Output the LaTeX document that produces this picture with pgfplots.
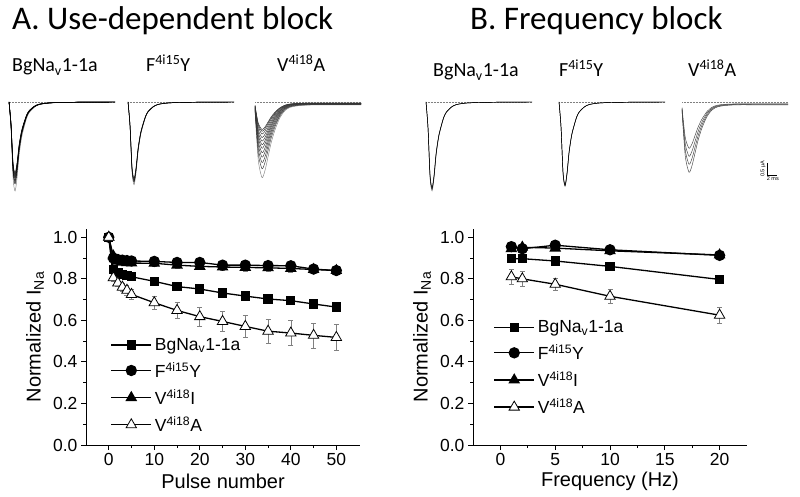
\documentclass[border=0pt]{standalone}
\usepackage{pgfplots}
\pgfplotsset{compat=1.18}
\usepackage{pgfplotstable}
\usepackage{fontspec}
\setmainfont{Liberation Sans}
\newfontfamily\calfont{Carlito}

\pgfplotstableread{
x bg bge f fe vi vie va vae
0 1.000 0.000 1.000 0.000 1.000 0.000 1.000 0.000
1 0.845 0.010 0.900 0.010 0.910 0.010 0.805 0.015
2 0.830 0.010 0.893 0.010 0.885 0.010 0.780 0.018
3 0.820 0.010 0.890 0.010 0.880 0.010 0.760 0.020
4 0.815 0.012 0.888 0.010 0.878 0.012 0.745 0.022
5 0.810 0.012 0.886 0.010 0.876 0.012 0.725 0.025
10 0.788 0.012 0.884 0.010 0.875 0.014 0.685 0.030
15 0.763 0.014 0.879 0.012 0.866 0.015 0.648 0.038
20 0.751 0.015 0.879 0.012 0.860 0.016 0.618 0.045
25 0.732 0.015 0.866 0.012 0.857 0.016 0.595 0.048
30 0.717 0.016 0.866 0.012 0.855 0.017 0.571 0.052
35 0.703 0.017 0.864 0.013 0.853 0.017 0.548 0.056
40 0.695 0.018 0.863 0.013 0.850 0.018 0.539 0.060
45 0.679 0.018 0.847 0.013 0.845 0.018 0.528 0.060
50 0.664 0.020 0.840 0.014 0.840 0.018 0.518 0.062
}\ud

\pgfplotstableread{
x bg bge f fe vi vie va vae
1 0.897 0.008 0.955 0.008 0.945 0.008 0.810 0.036
2 0.897 0.008 0.945 0.008 0.952 0.008 0.800 0.034
5 0.886 0.008 0.962 0.008 0.948 0.008 0.774 0.030
10 0.860 0.008 0.940 0.008 0.935 0.008 0.716 0.034
20 0.797 0.010 0.913 0.008 0.915 0.008 0.625 0.038
}\fb

% normalized current trace shapes (time in ms)
\pgfplotstableread{
t s
0 0
0.4 -0.30
0.8 -0.85
1.2 -1.00
1.6 -0.85
2.0 -0.60
2.5 -0.40
3.0 -0.28
3.5 -0.18
4.0 -0.12
5.0 -0.06
6.0 -0.03
8.0 -0.012
11 -0.005
15 -0.002
21 0
}\shapeA

\pgfplotstableread{
t s
0 -0.12
0.3 -0.45
0.7 -0.80
1.4 -1.00
2.0 -0.90
2.6 -0.72
3.2 -0.54
4.0 -0.36
5.0 -0.20
6.0 -0.11
7.0 -0.07
8.5 -0.05
11 -0.04
15 -0.04
21 -0.04
}\shapeV

\pgfplotsset{
  traceax/.style={scale only axis, width=106pt, height=89pt, xmin=0, xmax=21,
    ymin=-1, ymax=0, hide axis, clip=false, anchor=north west},
  tr/.style={black, line width=0.45pt, smooth, tension=0.45},
  trg/.style={gray, line width=0.45pt, smooth, tension=0.45},
  base/.style={gray, densely dotted, line width=0.5pt},
  mainax/.style={scale only axis, width=274pt, height=216pt, ymin=0, ymax=1.04,
    axis x line*=bottom, axis y line*=left,
    axis line style={line width=0.9pt},
    tick align=outside, major tick length=5pt, minor tick length=3pt,
    every tick/.style={line width=0.9pt, black},
    ytick={0,0.2,0.4,0.6,0.8,1.0}, minor y tick num=1,
    yticklabel style={/pgf/number format/fixed, /pgf/number format/fixed zerofill, /pgf/number format/precision=1},
    /pgf/number format/assume math mode=true,
    tick label style={font=\fontsize{17.5}{20}\selectfont},
    label style={font=\fontsize{20}{22}\selectfont},
    ylabel={Normalized I\textsubscript{Na}},
    ylabel style={at={(axis description cs:-0.186,0.5)}, anchor=center},
    xlabel style={at={(axis description cs:0.5,-0.17)}, anchor=center},
    clip=false,
    legend style={draw=none, fill=none, font=\fontsize{17.5}{20}\selectfont,
      inner sep=0pt, row sep=4.5pt, nodes={inner sep=3pt}},
    legend cell align=left,
    legend image code/.code={\draw[##1, mark repeat=2, mark phase=2]
      plot coordinates {(0pt,0pt) (20pt,0pt) (40pt,0pt)};},
    error bars/y dir=both, error bars/y explicit,
    error bars/error bar style={gray, line width=0.6pt},
    error bars/error mark options={rotate=90, mark size=2.5pt, gray, line width=0.6pt},
  },
  sq/.style={black, line width=1.3pt, mark=square*, mark size=4pt, mark options={solid, fill=black}},
  ci/.style={black, line width=1.3pt, mark=*, mark size=5pt, mark options={solid, fill=black}},
  tf/.style={black, line width=1.3pt, mark=triangle*, mark size=5.5pt, mark options={solid, fill=black}},
  to/.style={black, line width=1.3pt, mark=triangle*, mark size=6pt, mark options={solid, fill=white, draw=black, line width=0.8pt}},
}

\begin{document}
\begin{tikzpicture}
\path[use as bounding box] (0pt,0pt) rectangle (800pt,496pt);

% titles
\node[anchor=base west, font=\calfont\fontsize{33}{36}\selectfont, inner sep=0pt] at (12pt,466pt) {A. Use-dependent block};
\node[anchor=base west, font=\calfont\fontsize{33}{36}\selectfont, inner sep=0pt] at (470pt,466pt) {B. Frequency block};

% trace labels
\begin{scope}[every node/.style={anchor=base west, font=\calfont\fontsize{20}{22}\selectfont, inner sep=0pt}]
\node at (12pt,424pt) {BgNa\textsubscript{v}1-1a};
\node at (146pt,424pt) {F\textsuperscript{4i15}Y};
\node at (277pt,424pt) {V\textsuperscript{4i18}A};
\node at (433pt,419pt) {BgNa\textsubscript{v}1-1a};
\node at (559pt,419pt) {F\textsuperscript{4i15}Y};
\node at (688pt,419pt) {V\textsuperscript{4i18}A};
\end{scope}

% ---- traces panel A ----
\begin{axis}[traceax, at={(9pt,394pt)}]
\addplot[base] coordinates {(0,0) (21,0)};
\addplot[trg] table[x=t, y=s] {\shapeA};
\pgfplotsinvokeforeach{0.92,0.89,0.86,0.84,0.82,0.80}{
  \addplot[tr] table[x=t, y expr=\thisrow{s}*#1] {\shapeA};}
\end{axis}
\begin{axis}[traceax, at={(128pt,394pt)}]
\addplot[base] coordinates {(0,0) (21,0)};
\addplot[trg] table[x=t, y expr=\thisrow{s}*0.93] {\shapeA};
\pgfplotsinvokeforeach{0.90,0.88,0.86}{
  \addplot[tr] table[x=t, y expr=\thisrow{s}*#1] {\shapeA};}
\end{axis}
\begin{axis}[traceax, at={(255pt,394pt)}]
\addplot[base] coordinates {(0,0) (21,0)};
\addplot[trg] table[x=t, y expr=\thisrow{s}*0.85] {\shapeV};
\pgfplotsinvokeforeach{0.75,0.68,0.62,0.57,0.52,0.48,0.44,0.40,0.36,0.33,0.31}{
  \addplot[tr, black!80] table[x=t, y expr=\thisrow{s}*#1] {\shapeV};}
\end{axis}

% ---- traces panel B ----
\begin{axis}[traceax, at={(426pt,394pt)}]
\addplot[base] coordinates {(0,0) (21,0)};
\addplot[trg] table[x=t, y=s] {\shapeA};
\pgfplotsinvokeforeach{0.98,0.96}{
  \addplot[tr] table[x=t, y expr=\thisrow{s}*#1] {\shapeA};}
\end{axis}
\begin{axis}[traceax, at={(559pt,394pt)}]
\addplot[base] coordinates {(0,0) (21,0)};
\addplot[trg] table[x=t, y expr=\thisrow{s}*0.95] {\shapeA};
\pgfplotsinvokeforeach{0.94,0.93}{
  \addplot[tr] table[x=t, y expr=\thisrow{s}*#1] {\shapeA};}
\end{axis}
\begin{axis}[traceax, at={(682pt,394pt)}]
\addplot[base] coordinates {(0,0) (21,0)};
\pgfplotsinvokeforeach{0.79,0.70,0.61,0.52}{
  \addplot[tr, black!75] table[x=t, y expr=\thisrow{s}*#1] {\shapeV};}
\draw[line width=0.5pt] (axis cs:16.8,-0.685) -- (axis cs:16.8,-0.82) -- (axis cs:18.8,-0.82);
\node[rotate=90, anchor=south, font=\fontsize{5.5}{6}\selectfont, inner sep=1pt] at (axis cs:16.8,-0.75) {0.5 µA};
\node[anchor=north, font=\fontsize{5.5}{6}\selectfont, inner sep=1pt] at (axis cs:18.0,-0.83) {2 ms};
\end{axis}

% ---- A: use-dependent block ----
\begin{axis}[mainax, at={(86pt,51pt)}, anchor=south west,
  xmin=-5, xmax=55.2, xtick={0,10,20,30,40,50}, minor x tick num=1,
  xlabel={Pulse number},
  legend style={at={(axis cs:0.37,0.53)}, anchor=north west}]
\addplot[sq] table[x=x, y=bg, y error=bge] {\ud};
\addlegendentry{BgNa\textsubscript{v}1-1a}
\addplot[ci] table[x=x, y=f, y error=fe] {\ud};
\addlegendentry{F\textsuperscript{4i15}Y}
\addplot[tf] table[x=x, y=vi, y error=vie] {\ud};
\addlegendentry{V\textsuperscript{4i18}I}
\addplot[to] table[x=x, y=va, y error=vae] {\ud};
\addlegendentry{V\textsuperscript{4i18}A}
\end{axis}

% ---- B: frequency block ----
\begin{axis}[mainax, at={(473pt,51pt)}, anchor=south west,
  xmin=-2.5, xmax=22.5, xtick={0,5,10,15,20}, minor x tick num=1,
  xlabel={Frequency (Hz)},
  legend style={at={(axis cs:-0.64,0.615)}, anchor=north west}]
\addplot[sq] table[x=x, y=bg, y error=bge] {\fb};
\addlegendentry{BgNa\textsubscript{v}1-1a}
\addplot[ci] table[x=x, y=f, y error=fe] {\fb};
\addlegendentry{F\textsuperscript{4i15}Y}
\addplot[tf] table[x=x, y=vi, y error=vie] {\fb};
\addlegendentry{V\textsuperscript{4i18}I}
\addplot[to] table[x=x, y=va, y error=vae] {\fb};
\addlegendentry{V\textsuperscript{4i18}A}
\end{axis}
\end{tikzpicture}
\end{document}
